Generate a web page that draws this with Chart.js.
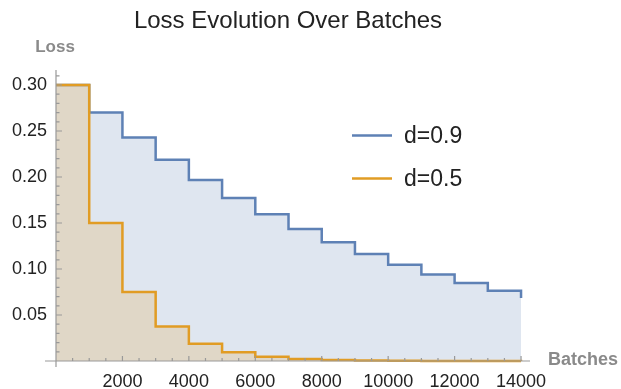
<!DOCTYPE html>
<html>
<head>
<meta charset="utf-8">
<script src="https://cdn.jsdelivr.net/npm/chart.js@4/dist/chart.umd.min.js"></script>
<style>
  html, body { margin: 0; padding: 0; background: #ffffff; }
  #wrap { width: 621px; height: 389px; }
</style>
</head>
<body>
<div id="wrap"><canvas id="c" width="621" height="389"></canvas></div>
<script>
// ---- data ----
const batches = [0, 1000, 2000, 3000, 4000, 5000, 6000, 7000, 8000, 9000, 10000, 11000, 12000, 13000, 14000];
const lossD09 = [0.300, 0.270, 0.243, 0.2187, 0.1968, 0.1772, 0.1594, 0.1435, 0.1291, 0.1162, 0.1046, 0.0941, 0.0847, 0.0763, 0.0686];
const lossD05 = [0.300, 0.150, 0.075, 0.0375, 0.0188, 0.0094, 0.0047, 0.0023, 0.0012, 0.0006, 0.0003, 0.00015, 0.00007, 0.00004, 0.00002];
const seriesNames = ['d=0.9', 'd=0.5'];
const xTicks = [2000, 4000, 6000, 8000, 10000, 12000, 14000];
const yTicks = [0.05, 0.10, 0.15, 0.20, 0.25, 0.30];
const titleText = 'Loss Evolution Over Batches';
const xAxisLabel = 'Batches';
const yAxisLabel = 'Loss';

const FONT = '"Liberation Sans", Arial, sans-serif';
const BLUE = '#5e81b5';
const ORANGE = '#e19c24';
const AXIS = '#999999';

function toPts(ys) { return batches.map((b, i) => ({ x: b, y: ys[i] })); }

const decor = {
  id: 'decor',
  afterDraw(chart) {
    const ctx = chart.ctx;
    const xs = chart.scales.x, ys = chart.scales.y;
    const x0 = xs.getPixelForValue(0), y0 = ys.getPixelForValue(0);
    ctx.save();
    // axes lines
    ctx.strokeStyle = AXIS;
    ctx.lineWidth = 1.2;
    ctx.beginPath();
    ctx.moveTo(x0 - 11, y0); ctx.lineTo(chart.chartArea.right, y0);
    ctx.moveTo(x0, chart.chartArea.top); ctx.lineTo(x0, y0 + 6);
    ctx.stroke();
    // y ticks (inward)
    ctx.beginPath();
    for (let k = 1; k <= 31; k++) {
      const v = k / 100;
      const py = ys.getPixelForValue(v);
      const len = (k % 5 === 0) ? 6 : 3.5;
      ctx.moveTo(x0, py); ctx.lineTo(x0 + len, py);
    }
    // x ticks (upward)
    for (let k = 1; k <= 28; k++) {
      const v = k * 500;
      const px = xs.getPixelForValue(v);
      const len = (k % 4 === 0) ? 5 : 3;
      ctx.moveTo(px, y0); ctx.lineTo(px, y0 - len);
    }
    ctx.stroke();

    // title
    ctx.fillStyle = '#222222';
    ctx.font = '24px ' + FONT;
    ctx.textAlign = 'center';
    ctx.textBaseline = 'alphabetic';
    ctx.fillText(titleText, 288, 28);

    // axis labels
    ctx.fillStyle = '#8a8a8a';
    ctx.font = 'bold 17px ' + FONT;
    ctx.textAlign = 'center';
    ctx.fillText(yAxisLabel, x0 - 1, 52);
    ctx.font = 'bold 18px ' + FONT;
    ctx.textAlign = 'left';
    ctx.textBaseline = 'middle';
    ctx.fillText(xAxisLabel, 548, y0 - 1);

    // legend
    const colors = [BLUE, ORANGE];
    const ly = [135.5, 178.5];
    ctx.font = '23px ' + FONT;
    ctx.textBaseline = 'middle';
    ctx.textAlign = 'left';
    for (let i = 0; i < seriesNames.length; i++) {
      ctx.strokeStyle = colors[i];
      ctx.lineWidth = 2.5;
      ctx.beginPath();
      ctx.moveTo(352, ly[i]); ctx.lineTo(392, ly[i]);
      ctx.stroke();
      ctx.fillStyle = '#222222';
      ctx.fillText(seriesNames[i], 404, ly[i] + 1);
    }
    ctx.restore();
  }
};

new Chart(document.getElementById('c'), {
  type: 'line',
  data: {
    datasets: [
      {
        label: seriesNames[0],
        data: toPts(lossD09),
        borderColor: BLUE,
        backgroundColor: 'rgba(94,129,181,0.2)',
        borderWidth: 2.5,
        stepped: 'before',
        fill: 'origin',
        pointRadius: 0,
        order: 1
      },
      {
        label: seriesNames[1],
        data: toPts(lossD05),
        borderColor: ORANGE,
        backgroundColor: 'rgba(225,156,36,0.2)',
        borderWidth: 2.5,
        stepped: 'before',
        fill: 'origin',
        pointRadius: 0,
        order: 0
      }
    ]
  },
  options: {
    responsive: false,
    animation: false,
    events: [],
    layout: { padding: { top: 70, left: 0, right: 91, bottom: 0 } },
    plugins: {
      legend: { display: false },
      title: { display: false },
      tooltip: { enabled: false }
    },
    scales: {
      x: {
        type: 'linear',
        min: 0,
        max: 14270,
        grid: { display: false, drawTicks: false },
        border: { display: false },
        afterFit(s) { s.height = 22; },
        afterBuildTicks(s) { s.ticks = xTicks.map(v => ({ value: v })); },
        ticks: {
          autoSkip: false,
          maxRotation: 0,
          padding: 4,
          color: '#222222',
          font: { family: FONT, size: 18 },
          callback: (v) => String(v)
        }
      },
      y: {
        type: 'linear',
        min: -0.0065,
        max: 0.3163,
        grid: { display: false, drawTicks: false },
        border: { display: false },
        afterFit(s) { s.width = 56; },
        afterBuildTicks(s) { s.ticks = yTicks.map(v => ({ value: v })); },
        ticks: {
          autoSkip: false,
          padding: 9,
          color: '#222222',
          font: { family: FONT, size: 18 },
          callback: (v) => Number(v).toFixed(2)
        }
      }
    }
  },
  plugins: [decor]
});
</script>
</body>
</html>
